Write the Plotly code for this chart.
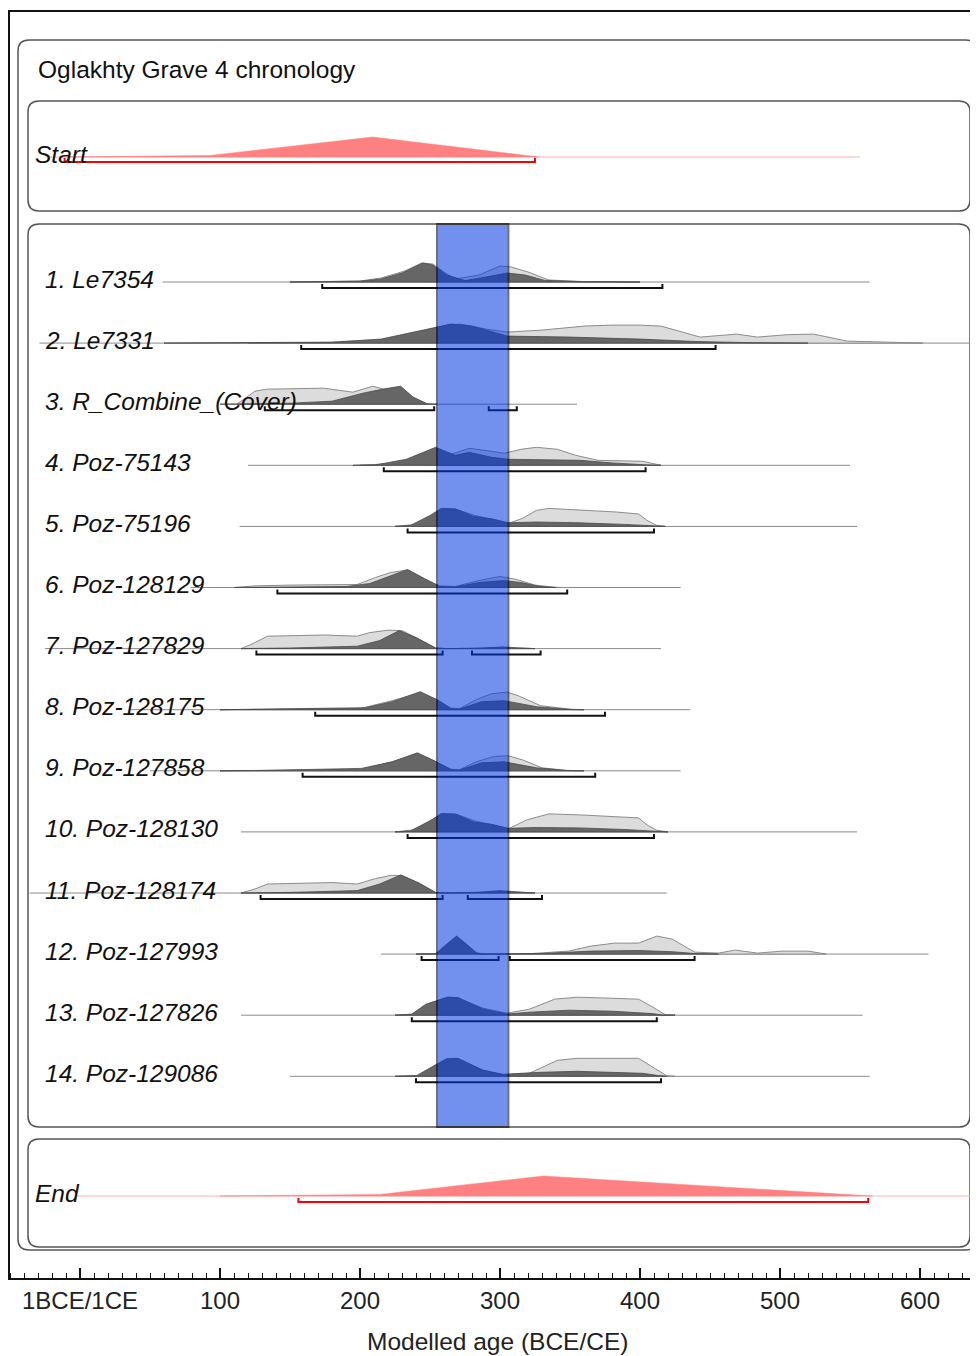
import plotly.graph_objects as go

# ---------------- data ----------------
labels = ["1. Le7354", "2. Le7331", "3. R_Combine_(Cover)", "4. Poz-75143",
          "5. Poz-75196", "6. Poz-128129", "7. Poz-127829", "8. Poz-128175",
          "9. Poz-127858", "10. Poz-128130", "11. Poz-128174", "12. Poz-127993",
          "13. Poz-127826", "14. Poz-129086"]

# extent of the thin axis line drawn for each distribution (years CE)
line_extent = [(59, 564), (-29, 636), (114, 355), (120, 550), (114, 555), (79, 429),
               (-25, 415), (36, 436), (50, 429), (115, 555), (-36, 419), (215, 606),
               (115, 559), (150, 564)]

# 95.4% ranges (years CE)
ranges95 = [[(173, 416)], [(158, 454)], [(132, 253), (292, 312)], [(217, 404)],
            [(234, 410)], [(141, 348)], [(126, 259), (280, 329)], [(168, 375)],
            [(159, 368)], [(234, 410)], [(129, 259), (277, 330)],
            [(244, 299), (307, 439)], [(237, 412)], [(240, 415)]]

# unmodelled (prior) and modelled (posterior) probability, relative to max (year, p)
le7354_prior = [(150, 0), (200, 0.05), (215, 0.2), (232, 0.55), (244, 0.95), (252, 0.9), (262, 0.4),
                (268, 0.15), (285, 0.35), (300, 0.8), (308, 0.75), (320, 0.5), (335, 0.1), (360, 0.02), (400, 0)]
le7354_post = [(150, 0), (200, 0.04), (215, 0.15), (230, 0.45), (245, 0.95), (252, 0.85), (262, 0.35),
               (275, 0.07), (290, 0.25), (305, 0.45), (318, 0.35), (332, 0.08), (360, 0.01), (400, 0)]
le7331_prior = [(120, 0), (184, 0.03), (220, 0.15), (245, 0.5), (262, 0.9), (272, 0.95), (290, 0.7),
                (305, 0.55), (330, 0.65), (360, 0.85), (380, 0.9), (400, 0.9), (415, 0.85), (443, 0.3),
                (469, 0.45), (484, 0.3), (505, 0.42), (524, 0.45), (548, 0.1), (602, 0)]
le7331_post = [(60, 0), (120, 0.02), (180, 0.05), (215, 0.2), (245, 0.65), (265, 0.95), (280, 0.85),
               (305, 0.35), (350, 0.3), (400, 0.2), (440, 0.08), (480, 0.02), (520, 0)]
rcomb_prior = [(112, 0), (118, 0.3), (125, 0.65), (133, 0.75), (150, 0.78), (174, 0.8), (195, 0.6),
               (209, 0.9), (217, 0.75), (229, 0.85), (238, 0.35), (248, 0)]
rcomb_post = [(100, 0), (150, 0.05), (180, 0.15), (202, 0.55), (216, 0.75), (229, 0.9), (238, 0.35),
              (248, 0.02), (255, 0)]
p75143_prior = [(200, 0), (225, 0.1), (240, 0.35), (254, 0.6), (265, 0.55), (278, 0.85), (294, 0.7),
                (303, 0.6), (315, 0.8), (326, 0.9), (341, 0.8), (354, 0.5), (370, 0.25), (390, 0.22),
                (402, 0.2), (415, 0)]
p75143_post = [(195, 0), (211, 0.02), (233, 0.3), (254, 0.9), (268, 0.5), (278, 0.65), (294, 0.4),
               (306, 0.3), (357, 0.25), (380, 0.12), (405, 0.02), (415, 0)]
p75196_prior = [(225, 0), (240, 0.1), (252, 0.55), (260, 0.85), (270, 0.82), (282, 0.55), (294, 0.35),
                (306, 0.15), (316, 0.4), (326, 0.8), (335, 0.9), (357, 0.82), (383, 0.72), (399, 0.62),
                (405, 0.3), (412, 0.05), (418, 0)]
p75196_post = [(225, 0), (236, 0.05), (250, 0.55), (258, 0.9), (268, 0.88), (281, 0.5), (294, 0.38),
               (306, 0.18), (326, 0.22), (357, 0.18), (389, 0.1), (410, 0.02), (418, 0)]
p128129_prior = [(110, 0), (125, 0.08), (150, 0.12), (180, 0.12), (198, 0.15), (211, 0.5), (222, 0.75),
                 (234, 0.88), (245, 0.45), (257, 0.08), (268, 0.05), (285, 0.35), (300, 0.55), (312, 0.4),
                 (325, 0.12), (338, 0.02), (345, 0)]
p128129_post = [(110, 0), (150, 0.03), (190, 0.05), (207, 0.2), (218, 0.5), (234, 0.9), (246, 0.45),
                (257, 0.05), (268, 0.03), (285, 0.25), (303, 0.35), (315, 0.25), (328, 0.06), (340, 0)]
p127829_prior = [(115, 0), (122, 0.2), (134, 0.62), (150, 0.65), (175, 0.68), (198, 0.62), (207, 0.8),
                 (220, 0.92), (230, 0.9), (240, 0.55), (254, 0.03), (262, 0), (285, 0.02), (302, 0.08),
                 (315, 0.03), (325, 0)]
p127829_post = [(115, 0), (150, 0.03), (198, 0.12), (214, 0.4), (228, 0.9), (240, 0.55), (254, 0.03),
                (262, 0), (285, 0.02), (302, 0.07), (315, 0.02), (325, 0)]
p128175_prior = [(100, 0), (124, 0.02), (200, 0.06), (223, 0.45), (243, 0.85), (255, 0.5), (265, 0.08),
                 (271, 0.05), (283, 0.5), (294, 0.8), (305, 0.88), (313, 0.7), (329, 0.2), (351, 0.02), (360, 0)]
p128175_post = [(100, 0), (124, 0.02), (204, 0.1), (223, 0.4), (243, 0.9), (255, 0.5), (265, 0.05),
                (271, 0.04), (287, 0.4), (303, 0.45), (326, 0.15), (351, 0.01), (360, 0)]
p127858_prior = [(100, 0), (130, 0.02), (200, 0.06), (223, 0.45), (241, 0.85), (253, 0.5), (265, 0.08),
                 (271, 0.05), (283, 0.45), (296, 0.72), (306, 0.75), (316, 0.55), (330, 0.15), (348, 0.02), (360, 0)]
p127858_post = [(100, 0), (130, 0.02), (201, 0.12), (223, 0.45), (241, 0.9), (253, 0.5), (265, 0.05),
                (271, 0.04), (287, 0.4), (303, 0.45), (326, 0.15), (348, 0.01), (360, 0)]
p128130_prior = [(225, 0), (238, 0.1), (250, 0.55), (259, 0.88), (270, 0.85), (282, 0.55), (294, 0.35),
                 (306, 0.15), (319, 0.6), (335, 0.9), (357, 0.85), (370, 0.8), (399, 0.7), (405, 0.35),
                 (412, 0.08), (420, 0)]
p128130_post = [(225, 0), (236, 0.05), (250, 0.55), (258, 0.92), (268, 0.9), (281, 0.5), (294, 0.38),
                (306, 0.18), (326, 0.22), (357, 0.2), (389, 0.12), (410, 0.03), (420, 0)]
p128174_prior = [(115, 0), (125, 0.2), (134, 0.45), (160, 0.48), (180, 0.52), (198, 0.45), (211, 0.72),
                 (222, 0.88), (230, 0.88), (242, 0.5), (254, 0.02), (262, 0), (285, 0.04), (300, 0.12),
                 (315, 0.04), (325, 0)]
p128174_post = [(115, 0), (150, 0.03), (198, 0.12), (214, 0.45), (229, 0.9), (242, 0.5), (254, 0.03),
                (262, 0), (285, 0.03), (300, 0.1), (315, 0.03), (325, 0)]
p127993_prior = [(240, 0), (254, 0.02), (262, 0.15), (270, 0.25), (280, 0.1), (290, 0), (310, 0),
                 (321, 0.02), (349, 0.15), (365, 0.4), (382, 0.55), (399, 0.55), (412, 0.9), (423, 0.75),
                 (439, 0.1), (456, 0.05), (468, 0.2), (484, 0.05), (502, 0.15), (520, 0.15), (533, 0)]
p127993_post = [(240, 0), (254, 0.02), (262, 0.5), (269, 0.9), (276, 0.5), (284, 0.02), (290, 0),
                (310, 0), (330, 0.03), (365, 0.15), (399, 0.18), (423, 0.12), (439, 0.03), (456, 0)]
p127826_prior = [(225, 0), (237, 0.05), (250, 0.6), (262, 0.9), (270, 0.85), (288, 0.35), (305, 0.1),
                 (321, 0.3), (339, 0.8), (355, 0.9), (379, 0.85), (399, 0.8), (408, 0.45), (418, 0.03), (425, 0)]
p127826_post = [(225, 0), (237, 0.05), (247, 0.55), (263, 0.9), (270, 0.88), (288, 0.3), (305, 0.06),
                (321, 0.15), (349, 0.25), (380, 0.2), (409, 0.08), (416, 0.01), (425, 0)]
p129086_prior = [(225, 0), (240, 0.03), (250, 0.4), (260, 0.75), (268, 0.85), (288, 0.3), (302, 0.08),
                 (321, 0.15), (341, 0.8), (355, 0.9), (399, 0.9), (410, 0.4), (419, 0.03), (425, 0)]
p129086_post = [(225, 0), (241, 0.03), (252, 0.5), (262, 0.88), (270, 0.9), (280, 0.55), (288, 0.3),
                (302, 0.1), (329, 0.2), (355, 0.25), (402, 0.15), (412, 0.05), (419, 0)]

priors = [le7354_prior, le7331_prior, rcomb_prior, p75143_prior, p75196_prior, p128129_prior,
          p127829_prior, p128175_prior, p127858_prior, p128130_prior, p128174_prior,
          p127993_prior, p127826_prior, p129086_prior]
posts = [le7354_post, le7331_post, rcomb_post, p75143_post, p75196_post, p128129_post,
         p127829_post, p128175_post, p127858_post, p128130_post, p128174_post,
         p127993_post, p127826_post, p129086_post]

# boundaries
start_density = [(-14, 0), (50, 0.03), (93, 0.08), (209, 1.0), (325, 0.02), (328, 0)]
start_line = (-25, 557)
start_range = [(-11, 325)]
end_density = [(100, 0), (214, 0.08), (331, 1.0), (563, 0.03), (566, 0)]
end_line = (-4, 650)
end_range = [(156, 563)]

# highlighted interval (years CE)
band = (255, 306)

tick_vals = [0, 100, 200, 300, 400, 500, 600]
tick_text = ["1BCE/1CE", "100", "200", "300", "400", "500", "600"]

# ---------------- layout geometry (page pixels) ----------------
PAGE_OFF = 8                  # default body margin of the html page
W, H = 978 - PAGE_OFF, 1356 - PAGE_OFF
PL, PR, PT, PB = 8, 978, 10, 1278   # plot area in page pixels
PX_PER_YEAR = 1.4
ZERO_PX = 80
X_MIN = (PL - ZERO_PX) / PX_PER_YEAR
X_MAX = (PR - ZERO_PX) / PX_PER_YEAR

ROW0 = 282
ROW_STEP = 61.1
START_Y = 157
END_Y = 1196
HSCALE = 20   # px for relative probability 1.0

FONT = "Liberation Sans, Arial, sans-serif"


def px_x(p):
    return (p - PL) / (PR - PL)


fig = go.Figure()


def add_density(pts, base, fill, line, width):
    xs = [p[0] for p in pts]
    ys = [base - p[1] * HSCALE for p in pts]
    xs = xs + [xs[-1], xs[0], xs[0]]
    ys = ys + [base, base, ys[0]]
    fig.add_trace(go.Scatter(x=xs, y=ys, mode="lines", fill="toself", fillcolor=fill,
                             line=dict(color=line, width=width), hoverinfo="skip",
                             showlegend=False))


def add_line(ext, base, color):
    fig.add_trace(go.Scatter(x=[ext[0], ext[1]], y=[base, base], mode="lines",
                             line=dict(color=color, width=1), hoverinfo="skip", showlegend=False))


def add_brackets(rngs, base, color):
    xs, ys = [], []
    for a, b in rngs:
        xs += [a, a, b, b, None]
        ys += [base + 2, base + 6, base + 6, base + 2, None]
    fig.add_trace(go.Scatter(x=xs, y=ys, mode="lines", line=dict(color=color, width=2),
                             hoverinfo="skip", showlegend=False))


# Start boundary
add_line(start_line, START_Y, "#ffb3b3")
add_density(start_density, START_Y, "#ff8080", "#ff8080", 0.5)
add_brackets(start_range, START_Y - 1, "#ff0000")

# End boundary
add_line(end_line, END_Y, "#ffb3b3")
add_density(end_density, END_Y, "#ff8080", "#ff8080", 0.5)
add_brackets(end_range, END_Y, "#ff0000")

for i in range(len(labels)):
    base = ROW0 + i * ROW_STEP
    add_line(line_extent[i], base, "#8a8a8a")
    add_density(priors[i], base, "#dcdcdc", "#8c8c8c", 1)
    add_density(posts[i], base, "#666666", "#4a4a4a", 0.8)
    add_brackets(ranges95[i], base, "#111111")

LABEL_SIZE = 24.5
annotations = []
for i, lab in enumerate(labels):
    base = ROW0 + i * ROW_STEP
    annotations.append(dict(x=px_x(43), xref="paper", y=base, yref="y", yshift=3,
                            text="<i>" + lab + "</i>", showarrow=False, xanchor="left",
                            yanchor="middle", font=dict(family=FONT, size=LABEL_SIZE, color="#111")))
annotations.append(dict(x=px_x(33), xref="paper", y=START_Y, yref="y", yshift=3,
                        text="<i>Start</i>", showarrow=False, xanchor="left", yanchor="middle",
                        font=dict(family=FONT, size=LABEL_SIZE, color="#111")))
annotations.append(dict(x=px_x(33), xref="paper", y=END_Y, yref="y", yshift=3,
                        text="<i>End</i>", showarrow=False, xanchor="left", yanchor="middle",
                        font=dict(family=FONT, size=LABEL_SIZE, color="#111")))
annotations.append(dict(x=px_x(36), xref="paper", y=69, yref="y",
                        text="Oglakhty Grave 4 chronology", showarrow=False, xanchor="left",
                        yanchor="middle", font=dict(family=FONT, size=24.5, color="#111")))
annotations.append(dict(x=px_x(497), xref="paper", y=(PB - 1341) / (PB - PT), yref="paper",
                        text="Modelled age (BCE/CE)", showarrow=False, xanchor="center",
                        yanchor="middle", font=dict(family=FONT, size=24.5, color="#222")))


def rrect(x0, y0, x1, y1, r):
    pts = [("M", [(x0 + r, y0)]), ("L", [(x1 - r, y0)]), ("Q", [(x1, y0), (x1, y0 + r)]),
           ("L", [(x1, y1 - r)]), ("Q", [(x1, y1), (x1 - r, y1)]), ("L", [(x0 + r, y1)]),
           ("Q", [(x0, y1), (x0, y1 - r)]), ("L", [(x0, y0 + r)]), ("Q", [(x0, y0), (x0 + r, y0)])]
    s = ""
    for cmd, ps in pts:
        s += cmd + " " + " ".join(f"{px_x(a):.5f},{b:.2f}" for a, b in ps) + " "
    return s + "Z"


shapes = []
box_line = dict(color="#555555", width=1.5)
for (x0, y0, x1, y1) in [(18, 40, 977, 1250), (28, 101, 970, 211), (28, 224, 970, 1127),
                         (28, 1139, 970, 1247)]:
    shapes.append(dict(type="path", path=rrect(x0, y0, x1, y1, 11), xref="paper", yref="y",
                       line=box_line, layer="below"))

# outer frame (top & left)
shapes.append(dict(type="line", xref="paper", yref="y", x0=0, x1=1, y0=PT + 1, y1=PT + 1,
                   line=dict(color="#111", width=2)))
shapes.append(dict(type="line", xref="paper", yref="y", x0=px_x(9), x1=px_x(9), y0=PT, y1=PB,
                   line=dict(color="#111", width=2)))

# highlighted band
shapes.append(dict(type="rect", xref="x", yref="y", x0=band[0], x1=band[1], y0=224, y1=1127,
                   fillcolor="rgb(0,55,224)", opacity=0.55, line=dict(color="#000", width=2),
                   layer="above"))

fig.update_layout(
    width=W, height=H,
    margin=dict(l=PL - PAGE_OFF, r=(W + PAGE_OFF) - PR, t=PT - PAGE_OFF,
                b=(H + PAGE_OFF) - PB, pad=0),
    paper_bgcolor="white", plot_bgcolor="white",
    showlegend=False,
    annotations=annotations,
    shapes=shapes,
    xaxis=dict(range=[X_MIN, X_MAX], showgrid=False, zeroline=False, showline=True,
               linecolor="#111", linewidth=2, ticks="inside", ticklen=10, tickwidth=1.5,
               tickcolor="#111", tickvals=tick_vals, ticktext=tick_text,
               tickfont=dict(family=FONT, size=24, color="#222"),
               minor=dict(dtick=10, tick0=0, ticks="inside", ticklen=5, tickwidth=1,
                          tickcolor="#111", showgrid=False)),
    yaxis=dict(range=[PB, PT], visible=False, showgrid=False, zeroline=False),
)

fig.write_html("out.html")
